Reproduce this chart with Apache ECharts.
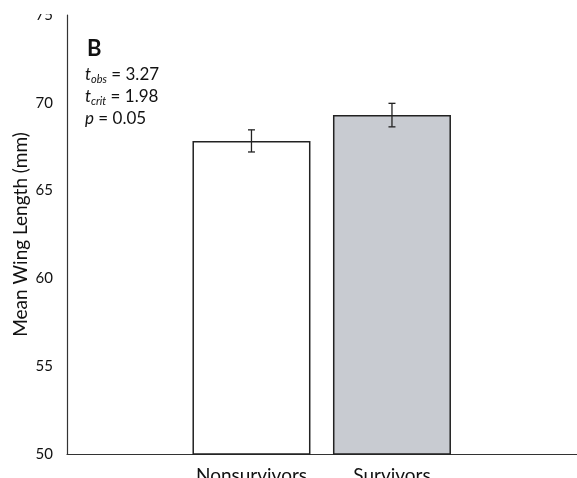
<!DOCTYPE html>
<html>
<head>
<meta charset="utf-8">
<script src="https://cdn.jsdelivr.net/npm/echarts@6/dist/echarts.min.js"></script>
<style>html,body{margin:0;padding:0;background:#fff;}#c{width:577px;height:478px;}</style>
</head>
<body>
<div id="c"></div>
<script>
var categories = ['Nonsurvivors', 'Survivors'];
var means = [67.83, 69.3];
var errors = [0.63, 0.67];
var yTicks = [50, 55, 60, 65, 70, 75];
var fills = ['#ffffff', '#c8cbd1'];

var chart = echarts.init(document.getElementById('c'));
var font = 'Lato, "Open Sans", sans-serif';

var barData = categories.map(function (c, i) {
  return { value: [i + 1, means[i]], itemStyle: { color: fills[i] } };
});
var errData = categories.map(function (c, i) {
  return [i + 1, means[i] - errors[i], means[i] + errors[i]];
});

function statText(main, sub, rest) {
  return {
    text: '{t|' + main + '}' + (sub ? '{s|' + sub + '}' : '') + '{n|' + rest + '}',
    rich: {
      t: { fontFamily: font, fontSize: 17, fontStyle: 'italic', fill: '#111', lineHeight: 21, verticalAlign: 'middle' },
      s: { fontFamily: font, fontSize: 11, fontStyle: 'italic', fill: '#111', verticalAlign: 'bottom' },
      n: { fontFamily: font, fontSize: 17, fill: '#111', lineHeight: 21, verticalAlign: 'middle' }
    }
  };
}

chart.setOption({
  animation: false,
  backgroundColor: '#fff',
  grid: { left: 67, right: 0, top: 15, bottom: 24, containLabel: false, outerBoundsMode: 'none' },
  xAxis: {
    type: 'value', min: -0.313, max: 3.317,
    axisLine: { show: true, onZero: false, lineStyle: { color: '#333', width: 1.2 } },
    axisTick: { show: false },
    splitLine: { show: false },
    axisLabel: {
      customValues: [1, 2], margin: 12,
      fontFamily: font, fontSize: 19, color: '#111',
      formatter: function (v) { return categories[Math.round(v) - 1] || ''; }
    }
  },
  yAxis: {
    type: 'value', min: yTicks[0], max: yTicks[yTicks.length - 1], interval: 5,
    name: 'Mean Wing Length (mm)', nameLocation: 'middle', nameGap: 37, nameMoveOverlap: false,
    nameTextStyle: { fontFamily: font, fontSize: 19, color: '#111' },
    axisLine: { show: true, onZero: false, lineStyle: { color: '#333', width: 1.2 } },
    axisTick: { show: false },
    splitLine: { show: false },
    axisLabel: { fontFamily: font, fontSize: 15, color: '#111', margin: 14 }
  },
  series: [
    {
      type: 'bar', barWidth: 118, data: barData,
      itemStyle: { borderColor: '#222', borderWidth: 1.5 }
    },
    {
      type: 'custom', data: errData, z: 10,
      renderItem: function (params, api) {
        var x = api.value(0);
        var lo = api.coord([x, api.value(1)]);
        var hi = api.coord([x, api.value(2)]);
        var w = 3.5;
        var st = { stroke: '#222', lineWidth: 1.3 };
        return {
          type: 'group', children: [
            { type: 'line', shape: { x1: lo[0], y1: lo[1], x2: hi[0], y2: hi[1] }, style: st },
            { type: 'line', shape: { x1: lo[0] - w, y1: lo[1], x2: lo[0] + w, y2: lo[1] }, style: st },
            { type: 'line', shape: { x1: hi[0] - w, y1: hi[1], x2: hi[0] + w, y2: hi[1] }, style: st }
          ]
        };
      }
    }
  ],
  graphic: [
    { type: 'rect', z: 100, shape: { x: 0, y: 0, width: 62, height: 14 }, style: { fill: '#fff' } },
    { type: 'text', left: 87, top: 38, style: { text: 'B', fontFamily: font, fontSize: 22, fontWeight: 'bold', fill: '#111' } },
    { type: 'text', left: 85, top: 66, style: statText('t', 'obs', ' = 3.27') },
    { type: 'text', left: 85, top: 88, style: statText('t', 'crit', ' = 1.98') },
    { type: 'text', left: 85, top: 110, style: statText('p', '', ' = 0.05') }
  ]
});
</script>
</body>
</html>
